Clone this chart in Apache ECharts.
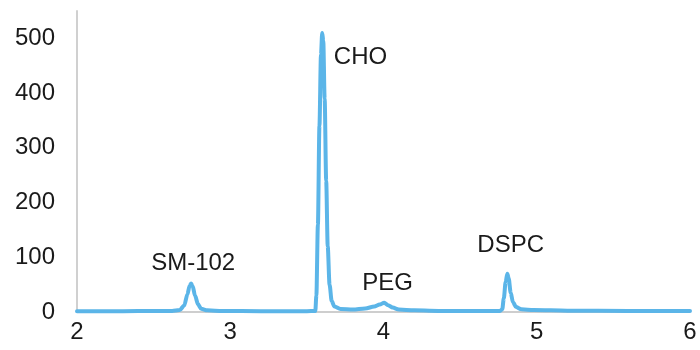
<!DOCTYPE html>
<html>
<head>
<meta charset="utf-8">
<script src="https://cdn.jsdelivr.net/npm/echarts@6/dist/echarts.min.js"></script>
<style>
  html, body { margin: 0; padding: 0; background: #fff; }
  #chart { width: 700px; height: 350px; }
</style>
</head>
<body>
<div id="chart"></div>
<script>
// retention time (x) and signal (y)
var timeVals = [2.00, 2.30, 2.50, 2.62, 2.67, 2.70, 2.72, 2.735, 2.745, 2.755, 2.77, 2.79, 2.81, 2.85, 2.95,
    3.20, 3.50, 3.555, 3.562, 3.572, 3.582, 3.592, 3.600, 3.607, 3.616, 3.626, 3.636, 3.648, 3.662, 3.68,
    3.72, 3.80, 3.88, 3.94, 3.975, 4.005, 4.03, 4.06, 4.10, 4.20, 4.40, 4.60, 4.76, 4.775, 4.785, 4.797,
    4.808, 4.817, 4.83, 4.845, 4.865, 4.90, 4.98, 5.20, 5.60, 6.00];
var signalVals = [1.5, 1.5, 2, 2, 3.5, 12, 32, 48, 52, 47, 30, 14, 6, 3, 2,
    1.5, 1.5, 2, 30, 160, 340, 470, 510, 495, 390, 240, 120, 50, 20, 10,
    5.5, 4.5, 6.5, 10, 13.5, 17, 12.5, 8, 4.5, 3, 2, 2, 2, 5, 25, 55,
    70, 61, 35, 18, 9, 5, 3.5, 2.5, 2, 2];

// peak names and where their text sits (data units)
var peakNames = ['SM-102', 'CHO', 'PEG', 'DSPC'];
var peakLabelX = [2.758, 3.85, 4.026, 4.83];
var peakLabelY = [89, 465, 53, 122];

var xTicks = [2, 6, 1];      // min, max, step
var yTicks = [0, 550, 100];

var chartDom = document.getElementById('chart');
var myChart = echarts.init(chartDom);

var traceData = timeVals.map(function (t, i) { return [t, signalVals[i]]; });
var labelData = peakNames.map(function (n, i) { return { value: [peakLabelX[i], peakLabelY[i]], name: n }; });

var option = {
    animation: false,
    grid: {
        left: 77,
        right: 10,
        top: 11,
        bottom: 38
    },
    xAxis: {
        type: 'value',
        min: xTicks[0],
        max: xTicks[1],
        interval: xTicks[2],
        axisLine: { show: true, lineStyle: { color: '#BFBFBF', width: 1.5 } },
        axisTick: { show: false },
        splitLine: { show: false },
        axisLabel: {
            color: '#1A1A1A',
            fontSize: 24,
            fontFamily: 'Liberation Sans',
            margin: 8
        }
    },
    yAxis: {
        type: 'value',
        min: yTicks[0],
        max: yTicks[1],
        interval: yTicks[2],
        axisLine: { show: true, lineStyle: { color: '#D0D0D0', width: 2 } },
        axisTick: { show: false },
        splitLine: { show: false },
        axisLabel: {
            color: '#1A1A1A',
            fontSize: 24,
            fontFamily: 'Liberation Sans',
            margin: 22,
            showMaxLabel: false
        }
    },
    series: [
        {
            type: 'line',
            data: traceData,
            showSymbol: false,
            smooth: 0.3,
            smoothMonotone: 'x',
            lineStyle: { color: '#5BB5E8', width: 4, cap: 'round', join: 'round' }
        },
        {
            type: 'scatter',
            data: labelData,
            symbolSize: 0,
            silent: true,
            itemStyle: { opacity: 1 },
            label: {
                show: true,
                position: 'inside',
                formatter: '{b}',
                color: '#1A1A1A',
                textBorderWidth: 0,
                fontSize: 24,
                fontFamily: 'Liberation Sans'
            }
        }
    ]
};

myChart.setOption(option);
</script>
</body>
</html>
